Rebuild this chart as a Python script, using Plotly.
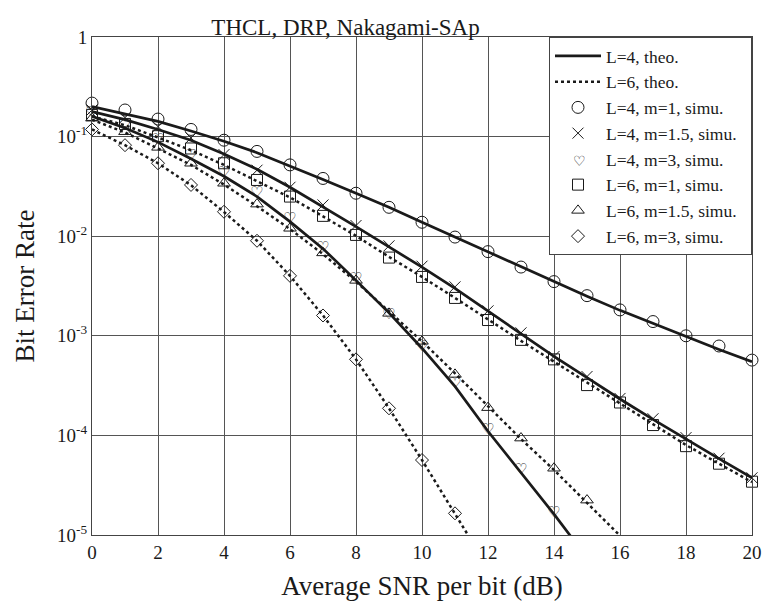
import plotly.graph_objects as go

snr = list(range(0, 21))

# theoretical curves
theo_L4_m1 = [0.20, 0.17, 0.142, 0.114, 0.09, 0.069, 0.051, 0.037, 0.027, 0.0195, 0.0138,
              0.0098, 0.0069, 0.0049, 0.0035, 0.0025, 0.0018, 0.00133, 0.00098, 0.00073, 0.00055]
theo_L4_m15 = [0.178, 0.148, 0.118, 0.092, 0.067, 0.047, 0.031, 0.0198, 0.0125, 0.0078, 0.0049,
               0.003, 0.00178, 0.00106, 0.00062, 0.00038, 0.000232, 0.000145, 0.000093, 0.0000585, 0.0000375]
theo_L4_m3 = [0.16, 0.122, 0.088, 0.06, 0.04, 0.025, 0.014, 0.0075, 0.0036, 0.0017, 0.00075,
              0.00031, 0.00011, 0.000042, 0.0000162, 0.0000059]
theo_L6_m1 = [0.16, 0.13, 0.098, 0.073, 0.052, 0.036, 0.0245, 0.0158, 0.0101, 0.0062, 0.0039,
              0.0024, 0.00145, 0.00089, 0.00055, 0.00034, 0.00021, 0.000128, 0.00008, 0.000052, 0.000034]
theo_L6_m15 = [0.148, 0.11, 0.076, 0.052, 0.033, 0.02, 0.0118, 0.0066, 0.0035, 0.00175, 0.00088,
               0.00042, 0.000195, 0.000092, 0.000045, 0.000021, 0.0000098, 0.0000046]
theo_L6_m3 = [0.118, 0.082, 0.054, 0.0325, 0.0175, 0.009, 0.004, 0.0016, 0.00058, 0.000187,
              0.0000566, 0.0000165, 0.0000047]

# simulation points
sim_L4_m1 = [0.217, 0.185, 0.15, 0.118, 0.092, 0.071, 0.052, 0.038, 0.027, 0.0195, 0.0138,
             0.0098, 0.007, 0.0049, 0.0035, 0.00253, 0.00182, 0.00139, 0.001, 0.00079, 0.00057]
sim_L4_m15 = [0.185, 0.155, 0.126, 0.097, 0.066, 0.046, 0.031, 0.0206, 0.0128, 0.008, 0.005,
              0.0031, 0.00178, 0.00107, 0.00062, 0.00039, 0.000235, 0.000147, 0.000095, 0.000059, 0.0000375]
sim_L4_m3 = [0.17, 0.13, 0.092, 0.063, 0.043, 0.027, 0.0148, 0.0076, 0.0037, 0.0016, 0.00076,
             0.00033, 0.000113, 0.0000448, 0.0000165]
sim_L6_m1 = [0.165, 0.134, 0.101, 0.076, 0.054, 0.0367, 0.025, 0.016, 0.0103, 0.0061, 0.0039,
             0.0024, 0.00144, 0.00091, 0.00058, 0.00032, 0.000214, 0.000127, 0.000078, 0.000052, 0.0000343]
sim_L6_m15 = [0.153, 0.112, 0.078, 0.054, 0.034, 0.021, 0.012, 0.0068, 0.0036, 0.00168, 0.00088,
              0.00041, 0.00019, 0.000094, 0.0000468, 0.0000224]
sim_L6_m3 = [0.118, 0.082, 0.054, 0.0327, 0.0176, 0.009, 0.004, 0.0016, 0.00058, 0.000187,
             0.0000566, 0.0000165]

y_tickvals = [1e-5, 1e-4, 1e-3, 1e-2, 1e-1, 1]
y_ticktext = ["10<sup>-5</sup>", "10<sup>-4</sup>", "10<sup>-3</sup>", "10<sup>-2</sup>", "10<sup>-1</sup>", "1"]
x_tickvals = list(range(0, 21, 2))

FONT = "Liberation Serif, Times New Roman, serif"
BLACK = "#1a1a1a"
HEART = "\u2661"
NB = "\u00a0"

W, H = 767, 603
ML, MR, MT, MB = 92, 15, 37, 68

fig = go.Figure()

# theory lines
for i, ys in enumerate([theo_L4_m1, theo_L4_m15, theo_L4_m3]):
    fig.add_trace(go.Scatter(x=snr[:len(ys)], y=ys, mode="lines",
                             line=dict(color=BLACK, width=2.7),
                             name="L=4, theo.", legendgroup="L4", showlegend=(i == 0)))
for i, ys in enumerate([theo_L6_m1, theo_L6_m15, theo_L6_m3]):
    fig.add_trace(go.Scatter(x=snr[:len(ys)], y=ys, mode="lines",
                             line=dict(color=BLACK, width=2.5, dash="dot"),
                             name="L=6, theo.", legendgroup="L6", showlegend=(i == 0)))

def mk(ys, name, symbol, size):
    return go.Scatter(x=snr[:len(ys)], y=ys, mode="markers", name=name, cliponaxis=False,
                      marker=dict(symbol=symbol, size=size, color=BLACK,
                                  line=dict(color=BLACK, width=1)))

fig.add_trace(mk(sim_L4_m1, "L=4, m=1, simu.", "circle-open", 12))
fig.add_trace(mk(sim_L4_m15, "L=4, m=1.5, simu." + NB * 2, "x-thin-open", 11))
# hearts: drawn as text glyphs at the data points
fig.add_trace(go.Scatter(x=snr[:len(sim_L4_m3)], y=sim_L4_m3, mode="text",
                         text=[HEART] * len(sim_L4_m3), cliponaxis=False,
                         textfont=dict(size=15, color=BLACK, family="DejaVu Sans"),
                         name="L=4, m=3, simu.", showlegend=False, legendgroup="heart"))
# legend entry for the hearts (glyph is added as text in the legend's symbol column)
fig.add_trace(go.Scatter(x=[None], y=[None], mode="markers", name="L=4, m=3, simu.",
                         legendgroup="heart",
                         marker=dict(symbol="circle", size=1, color="rgba(0,0,0,0)")))
fig.add_trace(mk(sim_L6_m1, "L=6, m=1, simu.", "square-open", 11))
fig.add_trace(mk(sim_L6_m15, "L=6, m=1.5, simu." + NB * 2, "triangle-up-open", 11))
fig.add_trace(mk(sim_L6_m3, "L=6, m=3, simu.", "diamond-open", 10))

fig.update_layout(
    width=W, height=H,
    margin=dict(l=ML, r=MR, t=MT, b=MB),
    paper_bgcolor="white", plot_bgcolor="white",
    font=dict(family=FONT, color=BLACK, size=19),
    title=dict(text="THCL, DRP, Nakagami-SAp", font=dict(size=23, family=FONT),
               x=345.5 / W, xanchor="center", xref="container",
               y=1 - 27 / H, yanchor="middle", yref="container"),
    xaxis=dict(range=[0, 20], tickvals=x_tickvals, showgrid=True, gridcolor="#555", gridwidth=1,
               showline=True, linecolor="#444", linewidth=1, mirror=True, ticks="", zeroline=False,
               automargin=False,
               title=dict(text="Average SNR per bit (dB)", font=dict(size=27), standoff=14),
               tickfont=dict(size=19)),
    yaxis=dict(type="log", range=[-5, 0], tickvals=y_tickvals, ticktext=y_ticktext,
               showgrid=True, gridcolor="#555", gridwidth=1, automargin=False,
               showline=True, linecolor="#444", linewidth=1, mirror=True, ticks="",
               title=dict(text="Bit Error Rate", font=dict(size=27), standoff=14),
               tickfont=dict(size=19)),
    legend=dict(x=1, y=1, xanchor="right", yanchor="top", bgcolor="white",
                bordercolor="#444", borderwidth=1, font=dict(size=17.5, family=FONT),
                itemwidth=46, tracegroupgap=0),
    showlegend=True,
)

# heart glyph in the legend symbol column (row 5 of the legend)
fig.add_annotation(text=HEART, xref="paper", yref="paper", x=(588 - ML) / (W - ML - MR),
                   y=(H - MB - 151) / (H - MT - MB), showarrow=False,
                   font=dict(size=14, color=BLACK, family="DejaVu Sans"))

fig.write_html("out.html", config={"displayModeBar": False},
               post_script="document.body.style.margin='0';")
